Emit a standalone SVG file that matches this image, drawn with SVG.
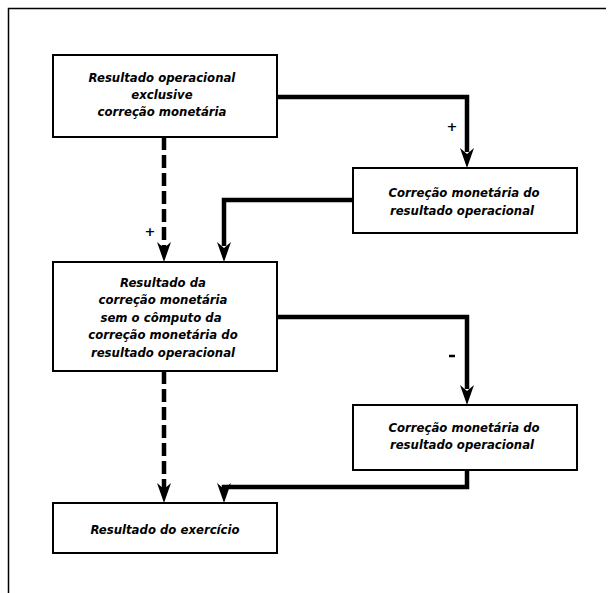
<svg xmlns="http://www.w3.org/2000/svg" width="608" height="593" viewBox="0 0 608 593">
<style>
.box{fill:#fff;stroke:#000;stroke-width:2}
.t{font-family:"DejaVu Sans Condensed","DejaVu Sans","Liberation Sans",sans-serif;font-stretch:condensed;font-weight:bold;font-style:italic;font-size:13px;fill:#000;text-anchor:middle}
.sign{font-family:"DejaVu Sans","Liberation Sans",sans-serif;font-weight:bold;font-size:13px;fill:#000;text-anchor:middle}
.solid{fill:none;stroke:#000;stroke-width:4.5;stroke-linejoin:miter}
.dash{fill:none;stroke:#000;stroke-width:4.5;stroke-dasharray:13 5}
</style>
<defs>
<marker id="ah" markerUnits="userSpaceOnUse" markerWidth="16" markerHeight="22" viewBox="-8 -20 16 22" refX="0" refY="0" orient="auto-start-reverse">
<path d="M0,0 L-7,-20 L0,-14 L7,-20 Z" fill="#000" transform="rotate(-90)"/>
</marker>
</defs>
<rect width="608" height="593" fill="#fff"/>
<g id="frame" fill="none" stroke="#000" stroke-width="1.5">
<path d="M8.5,593 V8.5 H606"/>
</g>
<g id="connectors">
<path class="solid" d="M277,97 H467 V152" />
<path d="M467,168 L460,148 L467,154 L474,148 Z"/>
<path class="solid" d="M353,200 H224 V246"/>
<path d="M224,262 L217,242 L224,248 L231,242 Z"/>
<path class="dash" d="M164,137 V248"/>
<path d="M164,262 L157,242 L164,248 L171,242 Z"/>
<path class="solid" d="M277,317 H467 V389"/>
<path d="M467,405 L460,385 L467,391 L474,385 Z"/>
<path class="solid" d="M467,470 V487 H224 V489"/>
<path d="M224,503 L217,483 L224,489 L231,483 Z"/>
<path class="dash" d="M164,371 V489"/>
<path d="M164,503 L157,483 L164,489 L171,483 Z"/>
<text class="sign" x="452" y="131">+</text>
<text class="sign" x="150" y="236">+</text>
<path d="M449,356 H455" stroke="#000" stroke-width="2.5"/>
</g>
<g id="n1">
<rect class="box" x="53" y="55" width="224" height="82"/>
<text class="t" x="162" y="82">Resultado operacional</text>
<text class="t" x="162" y="99">exclusive</text>
<text class="t" x="162" y="116">correção monetária</text>
</g>
<g id="n2">
<rect class="box" x="353" y="168" width="224" height="65"/>
<text class="t" x="464" y="197">Correção monetária do</text>
<text class="t" x="462" y="215">resultado operacional</text>
</g>
<g id="n3">
<rect class="box" x="53" y="262" width="224" height="109"/>
<text class="t" x="163" y="287">Resultado da</text>
<text class="t" x="163" y="304">correção monetária</text>
<text class="t" x="161" y="322">sem o cômputo da</text>
<text class="t" x="163" y="339">correção monetária do</text>
<text class="t" x="163" y="357">resultado operacional</text>
</g>
<g id="n4">
<rect class="box" x="353" y="405" width="224" height="65"/>
<text class="t" x="464" y="432">Correção monetária do</text>
<text class="t" x="462" y="449">resultado operacional</text>
</g>
<g id="n5">
<rect class="box" x="53" y="503" width="224" height="50"/>
<text class="t" x="165" y="534">Resultado do exercício</text>
</g>
</svg>
